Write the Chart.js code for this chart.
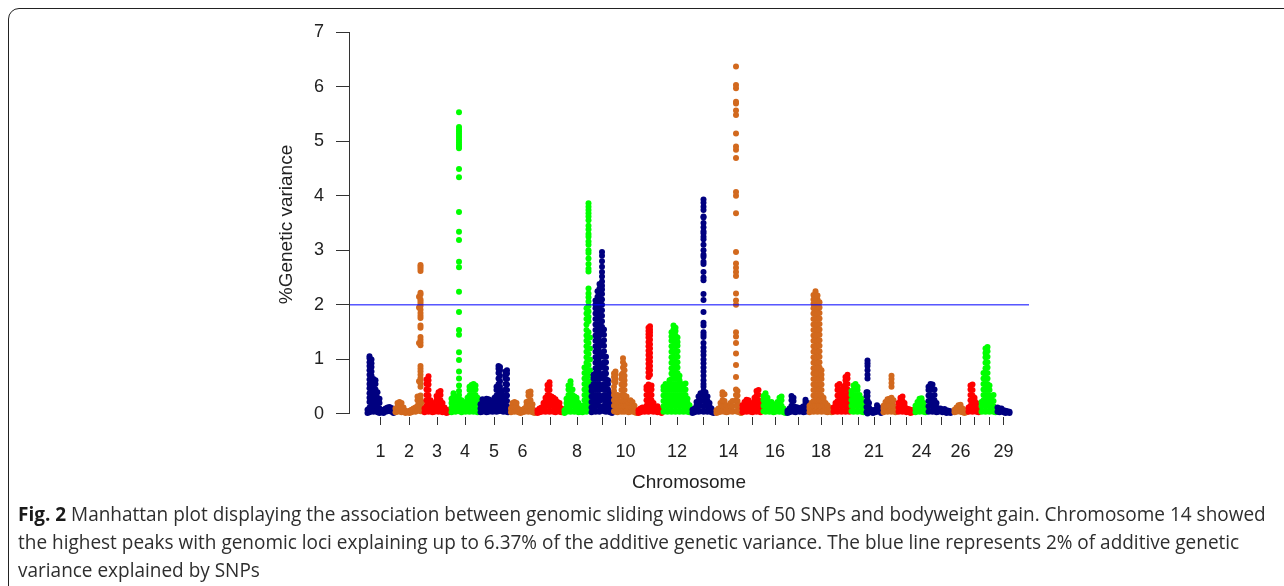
<!DOCTYPE html>
<html>
<head>
<meta charset="utf-8">
<script src="https://cdn.jsdelivr.net/npm/chart.js@4.4.1/dist/chart.umd.min.js"></script>
<style>
  html, body { margin: 0; padding: 0; background: #ffffff; }
  #wrap { position: relative; width: 1284px; height: 586px; overflow: hidden; background: #fff; }
  #frame { position: absolute; left: 8px; top: 8px; width: 1300px; height: 590px; border: 1.5px solid #222; border-radius: 11px; box-sizing: border-box; }
  #chartBox { position: absolute; left: 0; top: 0; width: 1284px; height: 586px; }
  .cap { position: absolute; left: 18px; white-space: nowrap; font-family: "Open Sans", "Liberation Sans", sans-serif; font-size: 19.5px; line-height: 28px; color: #2e2e2e; transform-origin: 0 50%; }
  .cap b { font-weight: 700; color: #1a1a1a; }
</style>
</head>
<body>
<div id="wrap">
  <div id="frame"></div>
  <div id="chartBox"><canvas id="c" width="1284" height="586"></canvas></div>
  <div class="cap" id="cap1" style="top:500px"><b>Fig. 2</b> Manhattan plot displaying the association between genomic sliding windows of 50 SNPs and bodyweight gain. Chromosome 14 showed</div>
  <div class="cap" id="cap2" style="top:528px">the highest peaks with genomic loci explaining up to 6.37% of the additive genetic variance. The blue line represents 2% of additive genetic</div>
  <div class="cap" id="cap3" style="top:556px">variance explained by SNPs</div>
</div>
<script>
// ---------------- DATA ----------------
const chromosomes = ["1","2","3","4","5","6","7","8","9","10","11","12","13","14","15","16","17","18","19","20","21","22","23","24","25","26","27","28","29"];
// relative length of each chromosome on the genome axis
const chromLength = [28,29,27,29,29,28,27,27,23,24,25,29,24,26,21,25,21,25,17,15,17,15,17,14,25,14,13,17,12];
// tick labels printed under the axis (R drops overlapping ones)
const tickLabels = ["1","2","3","4","5","6","","8","","10","","12","","14","","16","","18","","","21","","","24","","26","","","29"];
const yTicks = [0,1,2,3,4,5,6,7];
const threshold = 2; // % genetic variance line

// Each chromosome: [position within chromosome, value, value, ...]
const chr1 = [[1,0.02,0.08],[3,0.03,0.12,0.22,0.3,0.38,0.47,0.55,0.63,0.72,0.8,0.88,0.95,1.02,1.06],[5,0.05,0.15,0.25,0.35,0.45,0.52,0.6,0.7,0.78,0.86,0.93,1.0],[7,0.04,0.14,0.24,0.34,0.42,0.5,0.57,0.64],[9,0.06,0.16,0.26,0.36,0.45,0.55,0.62],[11,0.03,0.12,0.22,0.3,0.4],[13,0.02,0.1,0.2,0.28],[15,0.03,0.08],[17,0.02,0.07],[19,0.04,0.1],[21,0.05,0.12],[23,0.06,0.13],[25,0.04,0.11],[27,0.02,0.06]];
const chr2 = [[1,0.03,0.1],[3,0.04,0.13,0.2],[5,0.05,0.14,0.22],[7,0.03,0.12,0.2],[9,0.04,0.12],[11,0.02,0.06],[13,0.03],[15,0.02,0.06],[17,0.03,0.08],[19,0.05,0.1],[21,0.04,0.12],[23,0.06,0.15,0.25,0.32],[24.5,0.08,0.3,0.6,1.3,1.95,2.15],[26,0.05,0.1,0.16,0.22,0.28,0.34,0.5,0.56,0.61,0.66,0.72,0.78,0.83,0.88,1.26,1.31,1.36,1.41,1.58,1.62,1.76,1.8,1.85,1.91,1.98,2.02,2.06,2.1,2.19,2.22,2.62,2.66,2.7,2.73],[27.5,0.05,0.12,0.22]];
const chr3 = [[1,0.03,0.1],[3,0.05,0.15,0.25,0.35,0.45,0.55,0.63],[5,0.04,0.14,0.24,0.34,0.44,0.54,0.62,0.69],[7,0.05,0.15,0.25],[9,0.03,0.12,0.2],[11,0.04,0.13],[13,0.05,0.15,0.25,0.33],[15,0.04,0.14,0.24,0.34,0.4],[17,0.05,0.15,0.25,0.35,0.42],[19,0.03,0.12,0.2],[21,0.04,0.12],[23,0.02,0.08],[25,0.03,0.07]];
const chr4 = [[1,0.03,0.12,0.2,0.28],[3,0.05,0.15,0.25,0.33,0.38],[5,0.04,0.14,0.24,0.32],[8.5,0.05,0.12,0.2,0.28,0.35,0.42,0.52,0.65,0.78,0.99,1.13,1.45,1.54,1.87,2.24,2.69,2.79,3.19,3.34,3.7,4.34,4.49,4.87,4.9,4.94,4.98,5.02,5.06,5.1,5.14,5.18,5.22,5.26,5.53],[11,0.03,0.1,0.18,0.25],[13,0.05,0.13,0.22],[15,0.04,0.12,0.2],[17,0.05,0.15,0.25,0.3],[19,0.04,0.14,0.24,0.34,0.44,0.5],[21,0.05,0.15,0.25,0.35,0.45,0.53],[23,0.04,0.14,0.24,0.34,0.44,0.52,0.55],[25,0.05,0.15,0.25,0.35,0.45,0.52],[27,0.03,0.12,0.22,0.3]];
const chr5 = [[1,0.03,0.1,0.18],[3,0.04,0.13,0.22,0.27],[5,0.05,0.15,0.25],[7,0.03,0.12,0.22,0.28],[9,0.04,0.14,0.24,0.27],[11,0.05,0.15,0.25],[13,0.04,0.12,0.2],[15,0.05,0.15,0.25,0.3],[17,0.04,0.14,0.24,0.34,0.44,0.5],[19,0.05,0.15,0.25,0.35,0.45,0.55,0.65,0.75,0.83,0.88],[20.5,0.1,0.2,0.3,0.4,0.5,0.6,0.7,0.8,0.86],[22.5,0.05,0.15,0.25,0.35,0.42],[24,0.04,0.14,0.24,0.3],[26,0.05,0.15,0.25,0.35,0.45,0.55,0.65,0.72,0.78],[27.5,0.04,0.14,0.24,0.34,0.44,0.54,0.64,0.74,0.8],[28.5,0.03,0.1]];
const chr6 = [[2.5,0.03,0.1],[4,0.05,0.15,0.2],[6,0.04,0.13,0.22],[8,0.05,0.14,0.2],[10,0.03,0.09],[12,0.02,0.07],[14,0.03,0.08],[16,0.04,0.1],[18,0.05,0.15,0.22],[20,0.04,0.14,0.24,0.34,0.4],[22,0.05,0.15,0.25,0.35,0.41],[24,0.03,0.1,0.18],[26,0.02,0.06]];
const chr7 = [[1,0.02,0.07],[3,0.03,0.1],[5,0.04,0.12],[7,0.05,0.14,0.2],[9,0.04,0.14,0.24,0.3],[11,0.05,0.15,0.25,0.35,0.45,0.53],[13,0.04,0.14,0.24,0.34,0.44,0.52,0.58],[15,0.05,0.15,0.25,0.32],[17,0.04,0.14,0.24,0.3],[19,0.03,0.12,0.22,0.27],[21,0.05,0.15,0.22],[23,0.04,0.13,0.2],[25,0.03,0.1]];
const chr8 = [[1,0.02,0.07],[3,0.04,0.12,0.2,0.28],[5,0.05,0.15,0.25,0.35,0.45,0.52],[7,0.04,0.14,0.24,0.34,0.44,0.54,0.6],[9,0.05,0.15,0.25,0.35,0.45],[11,0.04,0.14,0.24,0.32],[13,0.05,0.15,0.25,0.3],[15,0.03,0.12,0.2],[17,0.04,0.1],[19,0.03,0.1,0.15],[21,0.05,0.15,0.25,0.35,0.45,0.55,0.65,0.75,0.85],[23,0.04,0.14,0.24,0.34,0.44,0.54,0.64,0.74,0.84,0.94,1.04,1.14,1.24,1.34,1.44,1.54,1.64,1.74,1.84,1.94],[25,0.1,0.2,0.3,0.5,0.7,0.9,1.1,1.3,1.5,1.7,1.78,1.88,1.98,2.06,2.14,2.21,2.3,2.61,2.66,2.75,2.85,2.95,3.0,3.1,3.16,3.25,3.3,3.38,3.45,3.55,3.62,3.68,3.74,3.8,3.86],[26.5,0.05,0.2,0.4,0.6,0.8,1.0,1.2,1.4]];
const chr9 = [[1,0.03,0.12,0.22,0.32,0.42,0.5],[3,0.05,0.15,0.25,0.35,0.45,0.55,0.65,0.72],[5,0.04,0.14,0.24,0.34,0.44,0.54,0.64,0.74,0.84,0.94,1.04,1.14,1.24,1.34,1.44,1.54,1.64,1.74,1.84,1.94,2.0,2.08],[7,0.05,0.15,0.25,0.35,0.45,0.55,0.65,0.75,0.85,0.95,1.05,1.15,1.25,1.35,1.45,1.55,1.65,1.75,1.85,1.95,2.05,2.15,2.25],[9,0.04,0.14,0.24,0.34,0.44,0.54,0.64,0.74,0.84,0.94,1.04,1.14,1.24,1.34,1.44,1.54,1.64,1.74,1.84,1.94,2.04,2.14,2.22,2.3,2.38],[11.5,0.1,0.3,0.5,0.7,0.9,1.1,1.3,1.5,1.6,1.7,1.8,1.9,2.0,2.1,2.2,2.28,2.35,2.43,2.52,2.6,2.7,2.8,2.9,2.97],[13.5,0.05,0.15,0.25,0.35,0.45,0.55,0.65,0.75,0.85,0.95,1.05,1.15,1.25,1.35,1.45,1.55],[15.5,0.04,0.14,0.24,0.34,0.44,0.54,0.64,0.74,0.84,0.95,1.05],[17.5,0.05,0.15,0.25,0.35,0.45,0.55,0.62],[19.5,0.03,0.12,0.22,0.3,0.38],[21.5,0.02,0.1,0.18]];
const chr10 = [[0.5,0.05,0.15,0.25,0.35,0.42,0.5,0.6,0.68,0.74],[2,0.04,0.14,0.24,0.3,0.58,0.64,0.72,0.78],[4,0.03,0.12,0.2,0.28,0.35],[6,0.05,0.14,0.22],[8,0.04,0.14,0.24,0.34,0.44,0.54,0.64,0.72],[9.5,0.05,0.15,0.25,0.35,0.45,0.55,0.65,0.75,0.85,0.95,1.02],[11,0.04,0.14,0.24,0.34,0.44,0.54,0.62,0.7,0.8,0.9],[13,0.05,0.15,0.25,0.32],[15,0.03,0.12,0.2],[17,0.04,0.13,0.2,0.25],[19,0.05,0.14,0.22],[21,0.03,0.1,0.15],[23,0.02,0.07]];
const chr11 = [[1,0.02,0.07],[3,0.03,0.1],[5,0.05,0.12],[7,0.04,0.1],[9,0.05,0.15,0.25,0.35,0.45,0.5],[11,0.04,0.14,0.24,0.34,0.44,0.54,0.68,0.76,0.84,0.92,1.0,1.08,1.16,1.24,1.32,1.4,1.46,1.52,1.58],[12.5,0.08,0.18,0.28,0.38,0.48,0.72,0.8,0.88,0.96,1.04,1.12,1.2,1.28,1.36,1.44,1.5,1.55,1.61],[14,0.05,0.15,0.25,0.35,0.45,0.52],[16,0.04,0.12,0.2],[18,0.05,0.1],[20,0.03,0.09,0.14],[22,0.04,0.1],[24,0.02,0.06]];
const chr12 = [[1,0.04,0.14,0.24,0.34,0.44,0.5],[3,0.05,0.15,0.25,0.35,0.45,0.55],[5,0.04,0.14,0.24,0.34,0.44,0.52],[7,0.05,0.15,0.25,0.35,0.45,0.55,0.62],[9,0.04,0.14,0.24,0.34,0.44,0.54,0.64,0.74,0.84,0.94,1.04,1.14,1.24,1.34,1.42,1.5],[11,0.05,0.15,0.25,0.35,0.45,0.55,0.65,0.75,0.85,0.95,1.05,1.15,1.25,1.35,1.45,1.55,1.62],[13,0.04,0.14,0.24,0.34,0.44,0.54,0.64,0.74,0.84,0.94,1.04,1.14,1.24,1.34,1.44,1.52,1.58],[15,0.05,0.15,0.25,0.35,0.45,0.55,0.65,0.75,0.85,0.95,1.05,1.15,1.25,1.32,1.4],[17,0.04,0.14,0.24,0.34,0.44,0.54,0.62,0.7],[19,0.05,0.15,0.25,0.35,0.45,0.55],[21,0.04,0.14,0.24,0.34,0.44,0.52],[23,0.05,0.15,0.25,0.35,0.45,0.56],[25,0.04,0.12,0.2,0.28],[27,0.03,0.1,0.16]];
const chr13 = [[1,0.02,0.08],[3,0.03,0.1],[5,0.05,0.15,0.22],[7,0.04,0.14,0.24,0.32],[9,0.05,0.15,0.25,0.35,0.38],[12,0.04,0.14,0.24,0.34,0.42,0.5,0.55,0.62,0.7,0.78,0.85,0.93,1.0,1.08,1.15,1.22,1.3,1.41,1.45,1.5,1.62,1.67,1.87,2.09,2.2,2.45,2.5,2.6,2.75,2.79,2.88,2.92,3.0,3.1,3.2,3.25,3.31,3.35,3.42,3.5,3.6,3.62,3.74,3.8,3.87,3.93],[14,0.05,0.15,0.25,0.35,0.4],[16,0.04,0.14,0.24,0.32],[18,0.05,0.14,0.2],[20,0.03,0.1],[22,0.02,0.06]];
const chr14 = [[1,0.02,0.07],[3,0.03,0.1],[5,0.04,0.12,0.2],[7,0.05,0.15,0.25,0.35,0.4],[9,0.04,0.14,0.24,0.36],[11,0.03,0.1,0.16],[13,0.04,0.12],[15,0.05,0.15,0.2],[17,0.04,0.14,0.24],[20.5,0.05,0.15,0.25,0.35,0.45,0.68,0.9,1.11,1.3,1.42,1.5,2.0,2.08,2.21,2.53,2.6,2.68,2.76,2.97,3.68,4.0,4.07,4.69,4.84,4.9,5.14,5.48,5.56,5.69,5.72,5.97,6.03,6.37],[22,0.04,0.14,0.24,0.34,0.42],[24,0.03,0.1,0.16],[25.5,0.02,0.06]];
const chr15 = [[1,0.03,0.1,0.16],[3,0.05,0.15,0.22],[5,0.04,0.14,0.24,0.26],[7,0.05,0.15,0.25],[9,0.04,0.13,0.2],[11,0.03,0.1,0.18],[13,0.05,0.15,0.25,0.3],[15,0.04,0.14,0.24,0.34,0.42],[17,0.05,0.15,0.25,0.35,0.44],[19,0.03,0.1,0.18]];
const chr16 = [[1,0.05,0.15,0.25,0.33],[3,0.04,0.14,0.24,0.34,0.38],[5,0.05,0.15,0.25,0.3],[7,0.04,0.12,0.2],[9,0.05,0.15,0.22],[11,0.03,0.12,0.18],[13,0.04,0.1],[15,0.05,0.15,0.22],[17,0.04,0.14,0.24,0.3],[19,0.05,0.15,0.25,0.32],[21,0.03,0.1],[23,0.02,0.06]];
const chr17 = [[0,0.02,0.06],[2,0.03,0.1],[4,0.05,0.15,0.25,0.33],[6,0.04,0.14,0.24,0.3],[8,0.03,0.1,0.13],[10,0.05,0.12],[12,0.04,0.1],[14,0.05,0.12],[16,0.03,0.1,0.14],[18,0.04,0.14,0.22,0.26],[20,0.05,0.12,0.2]];
const chr18 = [[1,0.03,0.1,0.15],[3,0.05,0.15,0.2],[5,0.04,0.14,0.24,0.34,0.44,0.54,0.64,0.74,0.84,0.94,1.04,1.14,1.24,1.34,1.44,1.54,1.64,1.74,1.84,1.94,2.02,2.1,2.18],[7,0.05,0.15,0.25,0.35,0.45,0.55,0.65,0.75,0.85,0.95,1.05,1.15,1.25,1.35,1.45,1.55,1.65,1.75,1.85,1.95,2.05,2.13,2.2,2.25],[9,0.04,0.14,0.24,0.34,0.44,0.54,0.64,0.74,0.84,0.94,1.04,1.14,1.24,1.34,1.44,1.54,1.64,1.74,1.84,1.92,2.0,2.1,2.17],[11,0.05,0.15,0.25,0.35,0.45,0.55,0.65,0.75,0.85,0.95,1.05,1.15,1.25,1.35,1.45,1.55,1.65,1.75,1.85,1.95,2.05],[13,0.04,0.14,0.24,0.34,0.44,0.54,0.64,0.72,0.8],[15,0.05,0.15,0.25,0.3],[17,0.04,0.12,0.2],[19,0.03,0.1,0.16],[21,0.05,0.12],[23,0.03,0.08]];
const chr19 = [[0,0.04,0.12],[2,0.05,0.15,0.2],[4,0.04,0.14,0.24,0.34,0.44,0.52],[6,0.05,0.15,0.25,0.35,0.45,0.55],[8,0.04,0.14,0.24,0.34,0.4],[10,0.05,0.15,0.25,0.35,0.45,0.5],[12,0.04,0.14,0.24,0.34,0.44,0.54,0.62,0.68],[14,0.05,0.15,0.25,0.35,0.45,0.55,0.65,0.72],[16,0.04,0.14,0.24,0.34,0.4]];
const chr20 = [[1,0.05,0.15,0.25,0.35,0.42],[3,0.04,0.14,0.24,0.34,0.44,0.52],[5,0.05,0.15,0.25,0.35,0.45,0.55],[7,0.04,0.14,0.24,0.34,0.44,0.5],[9,0.05,0.15,0.25,0.35],[11,0.04,0.14,0.24,0.28],[13,0.03,0.12,0.2]];
const chr21 = [[1,0.03,0.13,0.23,0.33,0.4],[2,0.01,0.07,0.13,0.25,0.33,0.4,0.65,0.72,0.8,0.88,0.93,0.98],[3.5,0.05,0.12,0.2],[5.5,0.03,0.08],[7.5,0.02,0.06],[9.5,0.03,0.08],[11.5,0.04,0.1,0.16],[13.5,0.05,0.12],[15.5,0.02,0.07]];
const chr22 = [[1,0.03,0.1,0.15],[3,0.05,0.15,0.22],[5,0.04,0.14,0.24,0.27],[7,0.05,0.15,0.25,0.28],[9,0.04,0.14,0.24,0.3,0.5,0.57,0.64,0.7],[11,0.05,0.15,0.25],[13,0.03,0.1]];
const chr23 = [[1,0.04,0.12,0.2],[3,0.05,0.15,0.25,0.3],[5,0.04,0.14,0.24,0.32],[7,0.05,0.15,0.2],[9,0.03,0.1],[11,0.04,0.09],[13,0.02,0.08],[15,0.03,0.07]];
const chr24 = [[1,0.03,0.1,0.15],[3,0.05,0.15,0.22],[5,0.04,0.14,0.24,0.28],[7,0.05,0.15,0.25,0.29],[9,0.04,0.14,0.2],[11,0.03,0.1]];
const chr25 = [[0,0.04,0.14,0.24,0.34,0.44,0.5],[2,0.05,0.15,0.25,0.35,0.45,0.55],[4,0.04,0.14,0.24,0.34,0.46,0.54],[6,0.05,0.15,0.25,0.35,0.45],[8,0.03,0.12,0.2],[10,0.04,0.1],[12,0.05,0.1],[14,0.03,0.08],[16,0.04,0.09],[18,0.02,0.07],[20,0.03,0.06],[22,0.02,0.05]];
const chr26 = [[1,0.03,0.08],[3,0.04,0.12],[5,0.05,0.12,0.16],[7,0.04,0.13,0.17],[9,0.03,0.1],[11,0.02,0.07],[13,0.03,0.06]];
const chr27 = [[1,0.04,0.12],[3,0.05,0.15,0.25,0.35,0.45,0.52],[5,0.04,0.14,0.24,0.34,0.44,0.54],[7,0.05,0.15,0.25,0.3],[9,0.04,0.12,0.2],[11,0.03,0.1]];
const chr28 = [[1,0.04,0.14,0.22],[3,0.05,0.15,0.25,0.35,0.45,0.55,0.65,0.75],[5,0.04,0.14,0.24,0.34,0.44,0.54,0.64,0.74,0.84,0.94,1.04,1.12,1.2],[7,0.05,0.15,0.25,0.35,0.45,0.55,0.65,0.75,0.85,0.95,1.05,1.15,1.23],[9,0.04,0.14,0.24,0.34,0.44,0.52],[11,0.05,0.15,0.25,0.32],[13,0.04,0.14,0.24,0.35],[15,0.03,0.1]];
const chr29 = [[0,0.04,0.12],[2,0.03,0.1],[4,0.05,0.1],[6,0.03,0.07],[8,0.02,0.06],[10,0.03,0.05],[12,0.02,0.04]];

const chromData = [chr1,chr2,chr3,chr4,chr5,chr6,chr7,chr8,chr9,chr10,chr11,chr12,chr13,chr14,chr15,chr16,chr17,chr18,chr19,chr20,chr21,chr22,chr23,chr24,chr25,chr26,chr27,chr28,chr29];

// ---------------- STYLE / LAYOUT ----------------
const chromColors = ["#000080", "#D2691E", "#FF0000", "#00FF00"];
const FONT = "'Liberation Sans', Arial, Helvetica, sans-serif";
const TEXT = "#222222";

const offsets = [];
let acc = 0;
chromLength.forEach(l => { offsets.push(acc); acc += l; });
const mids = chromLength.map((l, i) => offsets[i] + l / 2);
const X_MIN = -17.5, X_MAX = acc + 19.5;

const datasets = chromData.map((cols, i) => ({
  type: 'scatter',
  label: 'Chr ' + chromosomes[i],
  data: cols.flatMap(col => col.slice(1).map(v => ({ x: offsets[i] + col[0], y: v }))),
  backgroundColor: chromColors[i % 4],
  borderWidth: 0,
  pointRadius: 3,
  pointHoverRadius: 3,
  pointBorderWidth: 0,
  order: -i
}));
datasets.push({
  type: 'line',
  label: 'threshold',
  data: [{ x: X_MIN, y: threshold }, { x: X_MAX, y: threshold }],
  borderColor: '#0000FF',
  borderWidth: 1,
  pointRadius: 0,
  fill: false,
  order: -100
});

const axisLinePlugin = {
  id: 'axisLine',
  afterDraw(chart) {
    const y = chart.scales.y, ctx = chart.ctx;
    const x = Math.round(chart.chartArea.left) + 0.5;
    ctx.save();
    ctx.strokeStyle = '#333';
    ctx.lineWidth = 1;
    ctx.beginPath();
    ctx.moveTo(x, y.getPixelForValue(yTicks[yTicks.length - 1]));
    ctx.lineTo(x, y.getPixelForValue(yTicks[0]));
    ctx.stroke();
    ctx.restore();
  }
};

const PAD = { left: 275.8, right: 255, top: 32, bottom: 92.1 };

new Chart(document.getElementById('c'), {
  data: { datasets },
  options: {
    responsive: false,
    animation: false,
    events: [],
    layout: { padding: PAD },
    plugins: { legend: { display: false }, tooltip: { enabled: false } },
    scales: {
      x: {
        type: 'linear',
        min: X_MIN, max: X_MAX,
        border: { display: false },
        grid: { drawOnChartArea: false, drawTicks: true, tickLength: 8, color: '#333', lineWidth: 1 },
        afterBuildTicks: s => { s.ticks = mids.map(v => ({ value: v })); },
        afterFit: s => { s.height = 76.9; },
        ticks: {
          autoSkip: false, maxRotation: 0, minRotation: 0, padding: 16,
          color: TEXT, font: { family: FONT, size: 18 },
          callback: (v, i) => tickLabels[i]
        },
        title: { display: true, text: 'Chromosome', color: TEXT, font: { family: FONT, size: 19 }, padding: 0 }
      },
      y: {
        type: 'linear',
        min: -0.055, max: 7,
        border: { display: false },
        grid: { drawOnChartArea: false, drawTicks: true, tickLength: 13, color: '#333', lineWidth: 1 },
        afterBuildTicks: s => { s.ticks = yTicks.map(v => ({ value: v })); },
        afterFit: s => { s.width = 73.2; },
        ticks: { padding: 12, color: TEXT, font: { family: FONT, size: 18 }, callback: v => String(v) },
        title: { display: true, text: '%Genetic variance', color: TEXT, font: { family: FONT, size: 19 }, padding: 0 }
      }
    }
  },
  plugins: [axisLinePlugin]
});

// fit caption lines to the reference line width (narrow face)
(function fitCaption() {
  const l1 = document.getElementById('cap1');
  const w = l1.scrollWidth;
  const k = 1248 / w;
  ['cap1', 'cap2', 'cap3'].forEach(id => {
    document.getElementById(id).style.transform = 'scaleX(' + k + ')';
  });
})();
</script>
</body>
</html>
